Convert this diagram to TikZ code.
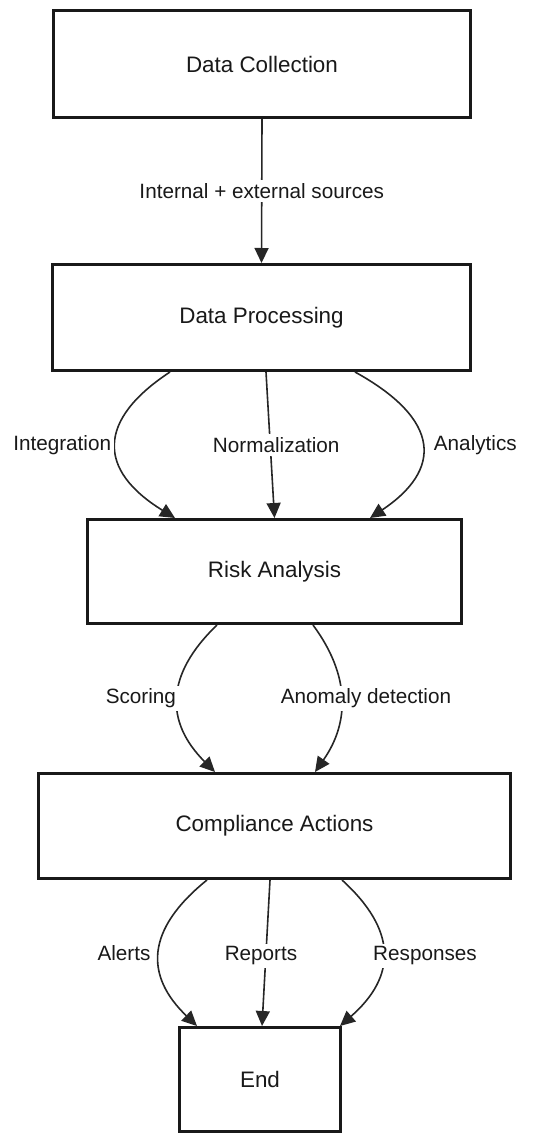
\documentclass[tikz,border=0pt]{standalone}
\usepackage{fontspec}
\setmainfont{Liberation Sans}
\usetikzlibrary{arrows.meta,positioning}

\begin{document}
\begin{tikzpicture}[x=1pt, y=-1pt,
    box/.style={draw=black!90, line width=3pt, fill=white, text=black!90,
        font=\fontsize{22.4pt}{26pt}\selectfont},
    lbl/.style={fill=white, inner sep=3pt, text=black!90,
        font=\fontsize{20.7pt}{24pt}\selectfont},
    link/.style={draw=black!85, line width=1.6pt, -{Triangle[length=15pt,width=14pt]}}]
    \useasboundingbox (0,0) rectangle (552,1135);

    \node[box, minimum width=417pt, minimum height=107pt] (collection) at (262,64) {Data Collection};
    \node[box, minimum width=418pt, minimum height=106pt] (processing) at (261.5,317.5) {Data Processing};
    \node[box, minimum width=374pt, minimum height=104pt] (risk) at (274.5,571.5) {Risk Analysis};
    \node[box, minimum width=472pt, minimum height=105pt] (compliance) at (274.5,826) {Compliance Actions};
    \node[box, minimum width=161pt, minimum height=104pt] (stop) at (260,1079.5) {End};

    \draw[link] (collection.south) -- (processing.north)
        node[lbl, pos=.5] (sources) {Internal + external sources};

    \draw[link] ([xshift=-91.5pt]processing.south) .. controls +(-73,48) and +(-78,-48) .. ([xshift=-99.5pt]risk.north)
        node[lbl, pos=.5, anchor=east, xshift=-1pt] (integration) {Integration};
    \draw[link] ([xshift=4.5pt]processing.south) -- (risk.north)
        node[lbl, pos=.5, xshift=6pt] (normalization) {Normalization};
    \draw[link] ([xshift=93.5pt]processing.south) .. controls +(87,48) and +(72,-48) .. ([xshift=95.5pt]risk.north)
        node[lbl, pos=.5, anchor=west, xshift=8pt] (analytics) {Analytics};

    \draw[link] ([xshift=-57.5pt]risk.south) .. controls +(-52,50) and +(-50,-50) .. ([xshift=-59.5pt]compliance.north)
        node[lbl, pos=.5, anchor=east, xshift=2pt] (scoring) {Scoring};
    \draw[link] ([xshift=38.5pt]risk.south) .. controls +(37,50) and +(35,-50) .. ([xshift=40.5pt]compliance.north)
        node[lbl, pos=.5, xshift=25pt] (anomaly) {Anomaly detection};

    \draw[link] ([xshift=-67.5pt]compliance.south) .. controls +(-62,50) and +(-52,-50) .. ([xshift=-63pt]stop.north)
        node[lbl, pos=.5, anchor=east, xshift=-5pt] (alerts) {Alerts};
    \draw[link] ([xshift=-4.5pt]compliance.south) -- ([xshift=2pt]stop.north)
        node[lbl, pos=.5, xshift=-5pt, yshift=-3pt] (reports) {Reports};
    \draw[link] ([xshift=67.5pt]compliance.south) .. controls +(55,50) and +(57,-50) .. ([xshift=80pt]stop.north)
        node[lbl, pos=.5, xshift=42pt, yshift=-3pt] (responses) {Responses};
\end{tikzpicture}
\end{document}
